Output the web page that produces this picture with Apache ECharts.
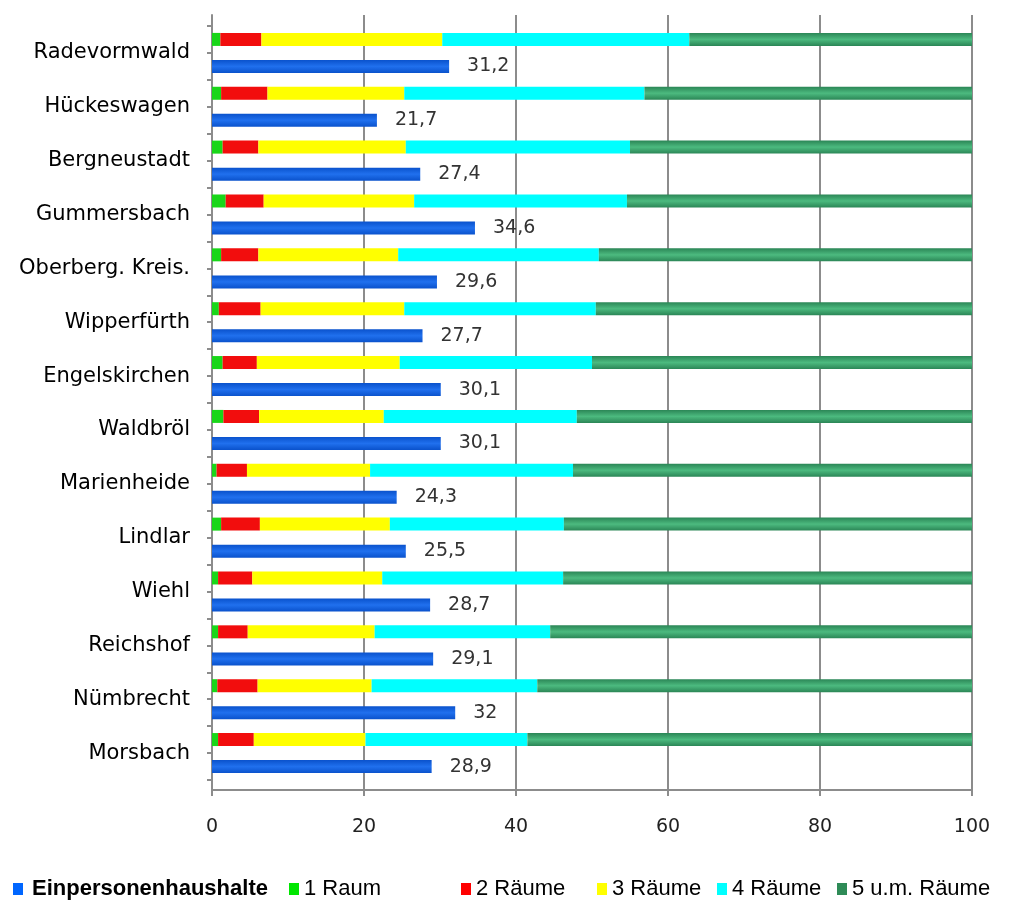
<!DOCTYPE html>
<html>
<head>
<meta charset="utf-8">
<title>Wohnungsgrößen</title>
<script src="https://cdn.jsdelivr.net/npm/echarts@6/dist/echarts.min.js"></script>
<style>
    html, body { margin: 0; padding: 0; background: #fff; }
    #chart { width: 1017px; height: 902px; }
</style>
</head>
<body>
<div id="chart"></div>
<script>
// categories, top to bottom
const cities = ['Radevormwald', 'Hückeswagen', 'Bergneustadt', 'Gummersbach', 'Oberberg. Kreis.',
    'Wipperfürth', 'Engelskirchen', 'Waldbröl', 'Marienheide', 'Lindlar', 'Wiehl',
    'Reichshof', 'Nümbrecht', 'Morsbach']

// share of flats by number of rooms (%)
const raum1 = [1.1, 1.2, 1.4, 1.8, 1.2, 0.9, 1.4, 1.5, 0.6, 1.2, 0.8, 0.8, 0.7, 0.8]
const raum2 = [5.4, 6.1, 4.7, 5.0, 4.9, 5.5, 4.5, 4.7, 4.0, 5.1, 4.5, 3.9, 5.3, 4.7]
const raum3 = [23.8, 18.0, 19.4, 19.8, 18.4, 18.9, 18.8, 16.4, 16.2, 17.1, 17.1, 16.7, 15.0, 14.7]
const raum4 = [32.5, 31.6, 29.5, 28.0, 26.4, 25.2, 25.3, 25.4, 26.7, 22.9, 23.8, 23.1, 21.8, 21.3]
const raum5 = [37.2, 43.1, 45.0, 45.4, 49.1, 49.5, 50.0, 52.0, 52.5, 53.7, 53.8, 55.5, 57.2, 58.5]

// single person households (%)
const single = [31.2, 21.7, 27.4, 34.6, 29.6, 27.7, 30.1, 30.1, 24.3, 25.5, 28.7, 29.1, 32, 28.9]

window.onload = function () {
    const chart = echarts.init(document.getElementById('chart'))
    const grey = '#8c8c8c'

    // vertical gradient for the shaded bars
    function shade(edge, mid) {
        return new echarts.graphic.LinearGradient(0, 0, 0, 1, [
            { offset: 0, color: edge },
            { offset: 0.5, color: mid },
            { offset: 1, color: edge }
        ])
    }

    const roomNames = ['1 Raum', '2 Räume', '3 Räume', '4 Räume', '5 u.m. Räume']
    const roomData = [raum1, raum2, raum3, raum4, raum5]
    const roomColors = ['#19d619', '#f20d0d', '#ffff00', '#00ffff', shade('#2b8656', '#4cba7f')]

    // stacked bars first so they take the upper slot
    const series = roomData.map((d, i) => ({
        name: roomNames[i],
        type: 'bar',
        stack: 'rooms',
        xAxisIndex: 1,
        yAxisIndex: 1,
        data: d,
        barWidth: 13,
        barGap: '108%',
        silent: true,
        itemStyle: { color: roomColors[i] }
    }))
    series.push({
        name: 'Einpersonenhaushalte',
        type: 'bar',
        xAxisIndex: 1,
        yAxisIndex: 1,
        data: single,
        barWidth: 13,
        barGap: '108%',
        silent: true,
        itemStyle: { color: shade('#0a52cc', '#2070ee') },
        label: {
            show: true,
            position: 'right',
            distance: 18,
            fontFamily: 'DejaVu Sans',
            fontSize: 19,
            color: '#333',
            formatter: p => String(p.value).replace('.', ',')
        }
    })

    // one legend per item, placed like the original
    function legendAt(name, left, color, bold) {
        return {
            data: [{ name: name, itemStyle: { color: color } }],
            left: left,
            top: 878,
            padding: 0,
            icon: 'rect',
            itemWidth: 10,
            itemHeight: 12,
            selectedMode: false,
            textStyle: {
                fontFamily: 'Liberation Sans',
                fontSize: 22,
                color: '#000',
                fontWeight: bold ? 'bold' : 'normal',
                padding: [0, 0, 0, bold ? 4 : 0]
            }
        }
    }

    chart.setOption({
        animation: false,
        backgroundColor: '#fff',
        legend: [
            legendAt('Einpersonenhaushalte', 13, '#0066ff', true),
            legendAt('1 Raum', 289, '#00e600'),
            legendAt('2 Räume', 461, '#ff0000'),
            legendAt('3 Räume', 597, '#ffff00'),
            legendAt('4 Räume', 717, '#00ffff'),
            legendAt('5 u.m. Räume', 837, '#2e8b57')
        ],
        grid: [
            // outer frame: gridlines and axes
            { left: 212, right: 45, top: 15, height: 775 },
            // inner area: the bars
            { left: 212, right: 45, top: 26, height: 754 }
        ],
        xAxis: [
            {
                type: 'value',
                gridIndex: 0,
                min: 0,
                max: 100,
                interval: 20,
                axisLine: { show: true, lineStyle: { color: grey, width: 2 } },
                axisTick: { show: true, length: 6, lineStyle: { color: grey, width: 2 } },
                axisLabel: { fontFamily: 'DejaVu Sans', fontSize: 19, color: '#222', margin: 28 },
                splitLine: { show: true, lineStyle: { color: grey, width: 2 } }
            },
            {
                type: 'value',
                gridIndex: 1,
                min: 0,
                max: 100,
                show: false
            }
        ],
        yAxis: [
            {
                type: 'value',
                gridIndex: 0,
                min: 0,
                max: 1,
                axisLine: { show: true, lineStyle: { color: grey, width: 2 } },
                axisTick: { show: false },
                axisLabel: { show: false },
                splitLine: { show: false }
            },
            {
                type: 'category',
                gridIndex: 1,
                position: 'left',
                offset: 0,
                data: cities,
                inverse: true,
                axisLine: { show: false },
                axisTick: { show: true, length: 5, lineStyle: { color: grey, width: 2 } },
                axisLabel: { fontFamily: 'DejaVu Sans', fontSize: 21, color: '#000', margin: 22 }
            },
            {
                // extra ticks between the two bars of a town
                type: 'category',
                gridIndex: 1,
                position: 'left',
                offset: 0,
                data: cities,
                inverse: true,
                axisLine: { show: false },
                axisTick: { show: true, alignWithLabel: true, length: 5, lineStyle: { color: grey, width: 2 } },
                axisLabel: { show: false }
            }
        ],
        series: series
    })
}
</script>
</body>
</html>
